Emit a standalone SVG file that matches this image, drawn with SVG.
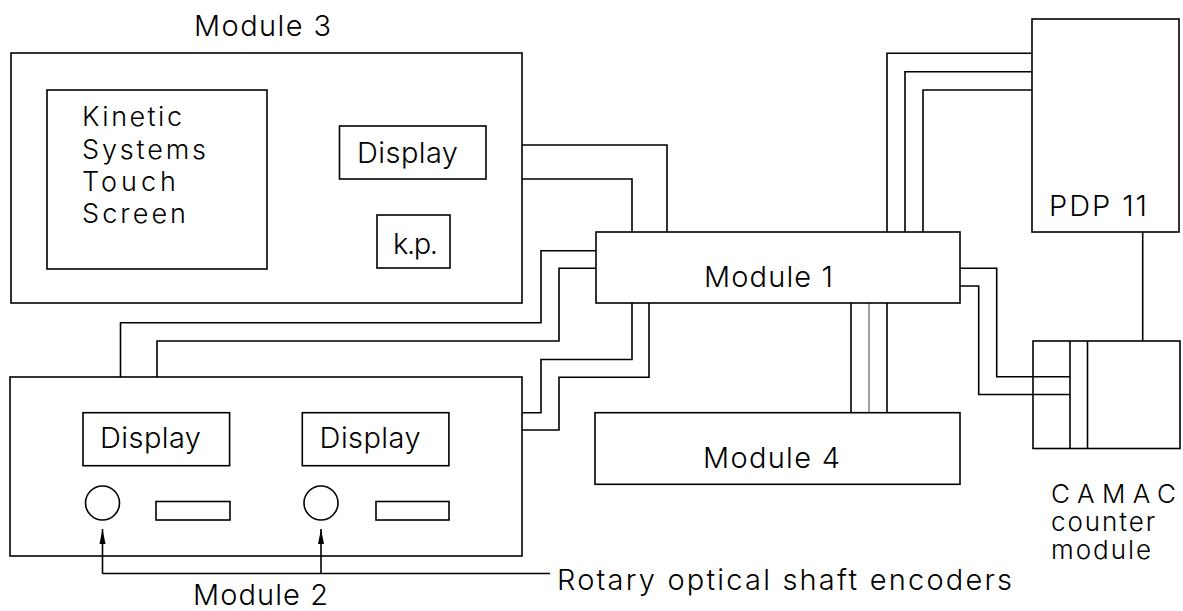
<svg xmlns="http://www.w3.org/2000/svg" width="1183" height="611" viewBox="0 0 1183 611">
<style>
  .box{fill:none;stroke:#000;stroke-width:1.6}
  .ln{fill:none;stroke:#000;stroke-width:1.6}
  .lt{fill:none;stroke:#888;stroke-width:1.6}
  text{font-family:"Inter","Liberation Sans","DejaVu Sans",sans-serif;font-size:29px;fill:#000;font-weight:300}
  .ml{font-size:27px}
  .sm{font-size:26px}
</style>
<defs>
  <marker id="arr" viewBox="0 0 16 8" refX="15" refY="4" markerWidth="16" markerHeight="8" markerUnits="userSpaceOnUse" orient="auto">
    <path d="M0,1 L15,4 L0,7 Z" fill="#000"/>
  </marker>
</defs>
<rect width="1183" height="611" fill="#fff"/>

<g id="connectors">
  <path class="ln" d="M522,145 H667 V232"/>
  <path class="ln" d="M522,179 H632 V232"/>
  <path class="ln" d="M596,250.7 H541 V322.7 H120.5 V377"/>
  <path class="ln" d="M596,268.3 H559 V341 H157 V377"/>
  <path class="ln" d="M632,303 V359.5 H541 V412.7 H522"/>
  <path class="ln" d="M649,303 V377.3 H559 V430 H522"/>
  <path class="ln" d="M851,303 V412.7"/>
  <path class="lt" d="M869,303 V412.7"/>
  <path class="ln" d="M887,303 V412.7"/>
  <path class="ln" d="M1032,53.3 H887 V232"/>
  <path class="ln" d="M1032,71.7 H905 V232"/>
  <path class="ln" d="M1032,90 H923 V232"/>
  <path class="ln" d="M960,268.3 H996.7 V376.7 H1070"/>
  <path class="ln" d="M960,286 H978.7 V394.5 H1070"/>
  <path class="ln" d="M1142.7,232 V341"/>
  <path class="ln" d="M550,573.5 H102.5"/>
  <path class="ln" d="M102.5,573.5 V529" marker-end="url(#arr)"/>
  <path class="ln" d="M321,573.5 V529" marker-end="url(#arr)"/>
</g>

<g id="module3">
  <text x="194" y="36" textLength="137" lengthAdjust="spacing">Module 3</text>
  <rect class="box" x="11" y="53" width="511" height="250"/>
</g>
<g id="touchscreen">
  <rect class="box" x="47" y="90" width="220" height="179"/>
  <text class="ml" x="82" y="126" textLength="100" lengthAdjust="spacing">Kinetic</text>
  <text class="ml" x="82" y="159" textLength="124" lengthAdjust="spacing">Systems</text>
  <text class="ml" x="82" y="191" textLength="94" lengthAdjust="spacing">Touch</text>
  <text class="ml" x="82" y="223" textLength="104" lengthAdjust="spacing">Screen</text>
</g>
<g id="display3">
  <rect class="box" x="339.5" y="126" width="146.5" height="53"/>
  <text x="357" y="163" textLength="101" lengthAdjust="spacing">Display</text>
</g>
<g id="keypad">
  <rect class="box" x="377" y="215" width="73" height="53"/>
  <text x="393" y="254" textLength="45" lengthAdjust="spacing">k.p.</text>
</g>

<g id="module1">
  <rect class="box" x="596" y="232" width="364" height="71"/>
  <text x="704" y="287" textLength="129" lengthAdjust="spacing">Module 1</text>
</g>

<g id="module4">
  <rect class="box" x="595" y="412.7" width="365" height="71.6"/>
  <text x="703" y="468" textLength="137" lengthAdjust="spacing">Module 4</text>
</g>

<g id="pdp11">
  <rect class="box" x="1032" y="19" width="147" height="213"/>
  <text x="1049" y="216" textLength="98" lengthAdjust="spacing">PDP 11</text>
</g>

<g id="camac">
  <rect class="box" x="1033" y="341" width="147" height="107.5"/>
  <line class="ln" x1="1070" y1="341" x2="1070" y2="448.5"/>
  <line class="ln" x1="1087.5" y1="341" x2="1087.5" y2="448.5"/>
  <text class="sm" x="1051" y="503" textLength="125" lengthAdjust="spacing">CAMAC</text>
  <text class="sm" x="1051" y="531" textLength="104" lengthAdjust="spacing">counter</text>
  <text class="sm" x="1051" y="559" textLength="100" lengthAdjust="spacing">module</text>
</g>

<g id="module2">
  <rect class="box" x="10" y="377" width="512" height="179"/>
  <text x="193" y="605" textLength="135" lengthAdjust="spacing">Module 2</text>
</g>
<g id="display2a">
  <rect class="box" x="83" y="412.7" width="146.6" height="53"/>
  <text x="100" y="448" textLength="101" lengthAdjust="spacing">Display</text>
</g>
<g id="display2b">
  <rect class="box" x="302.3" y="412.7" width="146.6" height="53"/>
  <text x="319.6" y="448" textLength="101" lengthAdjust="spacing">Display</text>
</g>
<g id="encoder1">
  <circle class="box" cx="102.5" cy="503" r="17"/>
  <rect class="box" x="156" y="501.5" width="74" height="18.5"/>
</g>
<g id="encoder2">
  <circle class="box" cx="321" cy="503" r="17"/>
  <rect class="box" x="376" y="501.5" width="73" height="18.5"/>
</g>
<g id="encoder-label">
  <text x="557" y="590" textLength="455" lengthAdjust="spacing">Rotary optical shaft encoders</text>
</g>
</svg>
